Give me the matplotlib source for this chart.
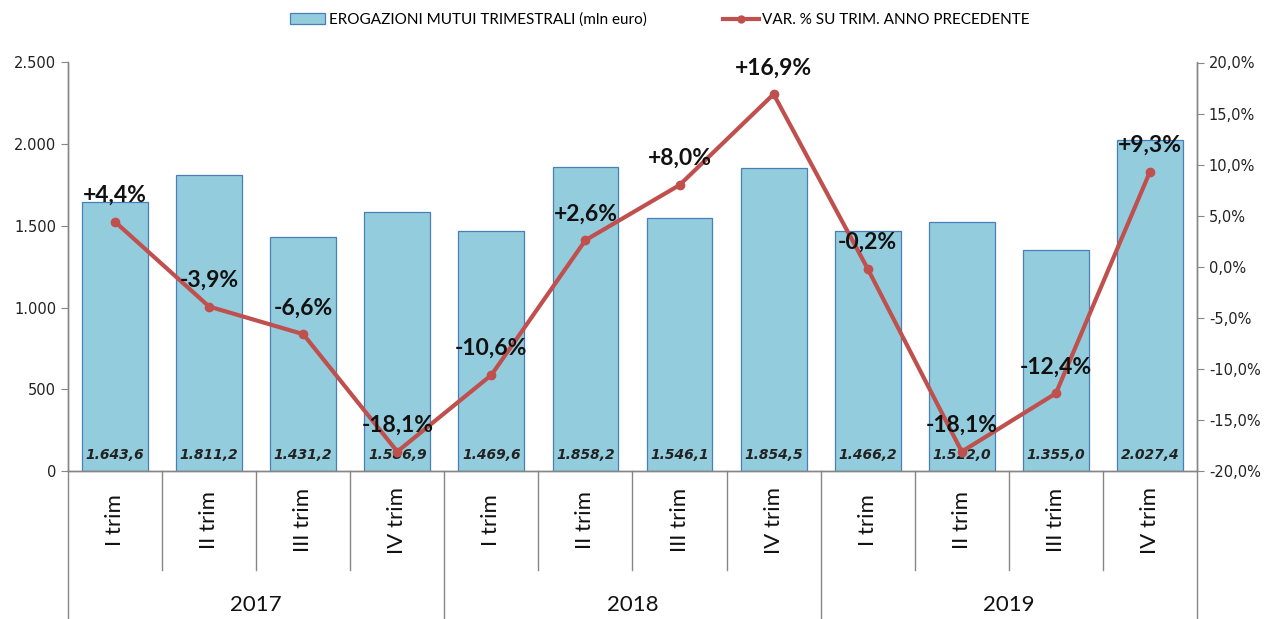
import matplotlib
matplotlib.use("Agg")
import matplotlib.pyplot as plt
from matplotlib.ticker import FuncFormatter, MultipleLocator
from matplotlib.lines import Line2D
from matplotlib.patches import Patch

quarters = ["I trim", "II trim", "III trim", "IV trim"] * 3
years = ["2017", "2018", "2019"]
erogazioni = [1643.6, 1811.2, 1431.2, 1586.9, 1469.6, 1858.2, 1546.1, 1854.5,
              1466.2, 1522.0, 1355.0, 2027.4]
variazione = [4.4, -3.9, -6.6, -18.1, -10.6, 2.6, 8.0, 16.9, -0.2, -18.1, -12.4, 9.3]

bar_label = "EROGAZIONI MUTUI TRIMESTRALI (mln euro)"
line_label = "VAR. % SU TRIM. ANNO PRECEDENTE"

BAR_FC = "#93CDDD"
BAR_EC = "#4A7EBB"
LINE_C = "#C0504D"
AXIS_C = "#868686"

fig = plt.figure(figsize=(12.72, 6.19), dpi=100)
ax = fig.add_axes([68 / 1272, 1 - 471 / 619, (1197 - 68) / 1272, (471 - 62.5) / 619])
ax2 = ax.twinx()

x = list(range(len(erogazioni)))
ax.bar(x, erogazioni, width=0.7, color=BAR_FC, edgecolor=BAR_EC, linewidth=0.9, zorder=2)
ax.set_ylim(0, 2500)
ax.set_xlim(-0.5, len(erogazioni) - 0.5)
ax.yaxis.set_major_locator(MultipleLocator(500))
ax.yaxis.set_major_formatter(FuncFormatter(lambda v, p: f"{int(v):,}".replace(",", ".")))

for xi, v in zip(x, erogazioni):
    s = f"{v:,.1f}".replace(",", "X").replace(".", ",").replace("X", ".")
    ax.text(xi, 100, s, ha="center", va="center", fontsize=10,
            fontweight="bold", fontstyle="italic", color="#222222",
            family="DejaVu Sans", zorder=3)

ax2.plot(x, variazione, color=LINE_C, linewidth=3, marker="o", markersize=6, zorder=4)
ax2.set_ylim(-20, 20)
ax2.yaxis.set_major_locator(MultipleLocator(5))
ax2.yaxis.set_major_formatter(FuncFormatter(lambda v, p: f"{v:.1f}%".replace(".", ",")))
for xi, v in zip(x, variazione):
    s = (f"+{v:.1f}%" if v > 0 else f"{v:.1f}%").replace(".", ",")
    ax2.annotate(s, (xi, v), xytext=(0, 19), textcoords="offset points",
                 ha="center", va="center", fontsize=16.5, fontweight="bold",
                 family="Lato", color="#111111", zorder=5)

for a in (ax, ax2):
    a.spines["top"].set_visible(False)
    for sp in ("left", "right", "bottom"):
        a.spines[sp].set_color(AXIS_C)
        a.spines[sp].set_linewidth(1)
    a.tick_params(axis="y", colors=AXIS_C, labelcolor="#222222", labelsize=10.5, length=5)

ax.set_xticks([])
ax.tick_params(axis="x", length=0)

# category separators and labels below the axis
q_bottom = (471 - 570) / 408
y_bottom = (471 - 619) / 408
for i in range(len(erogazioni) + 1):
    b = i - 0.5
    is_year = (i % 4 == 0)
    ax.plot([b, b], [0, y_bottom if is_year else q_bottom], color=AXIS_C, linewidth=1,
            transform=ax.get_xaxis_transform(), clip_on=False)
for xi, q in zip(x, quarters):
    ax.text(xi, (471 - 520) / 408, q, rotation=90, ha="center", va="center",
            fontsize=16, family="Lato", color="#111111",
            transform=ax.get_xaxis_transform())
for j, yr in enumerate(years):
    ax.text(j * 4 + 1.5, (471 - 605) / 408, yr, ha="center", va="center",
            fontsize=16, family="Lato", color="#111111",
            transform=ax.get_xaxis_transform())

handles = [Patch(facecolor=BAR_FC, edgecolor=BAR_EC, linewidth=0.9),
           Line2D([0], [0], color=LINE_C, linewidth=3, marker="o", markersize=5)]
fig.legend(handles, [bar_label, line_label], loc="center", bbox_to_anchor=(660 / 1272, 1 - 20 / 619),
           ncol=2, frameon=False, prop={"family": "Lato", "size": 11},
           columnspacing=5.0, handlelength=2.3, handletextpad=0.25)

fig.savefig("out.png", dpi=100)
